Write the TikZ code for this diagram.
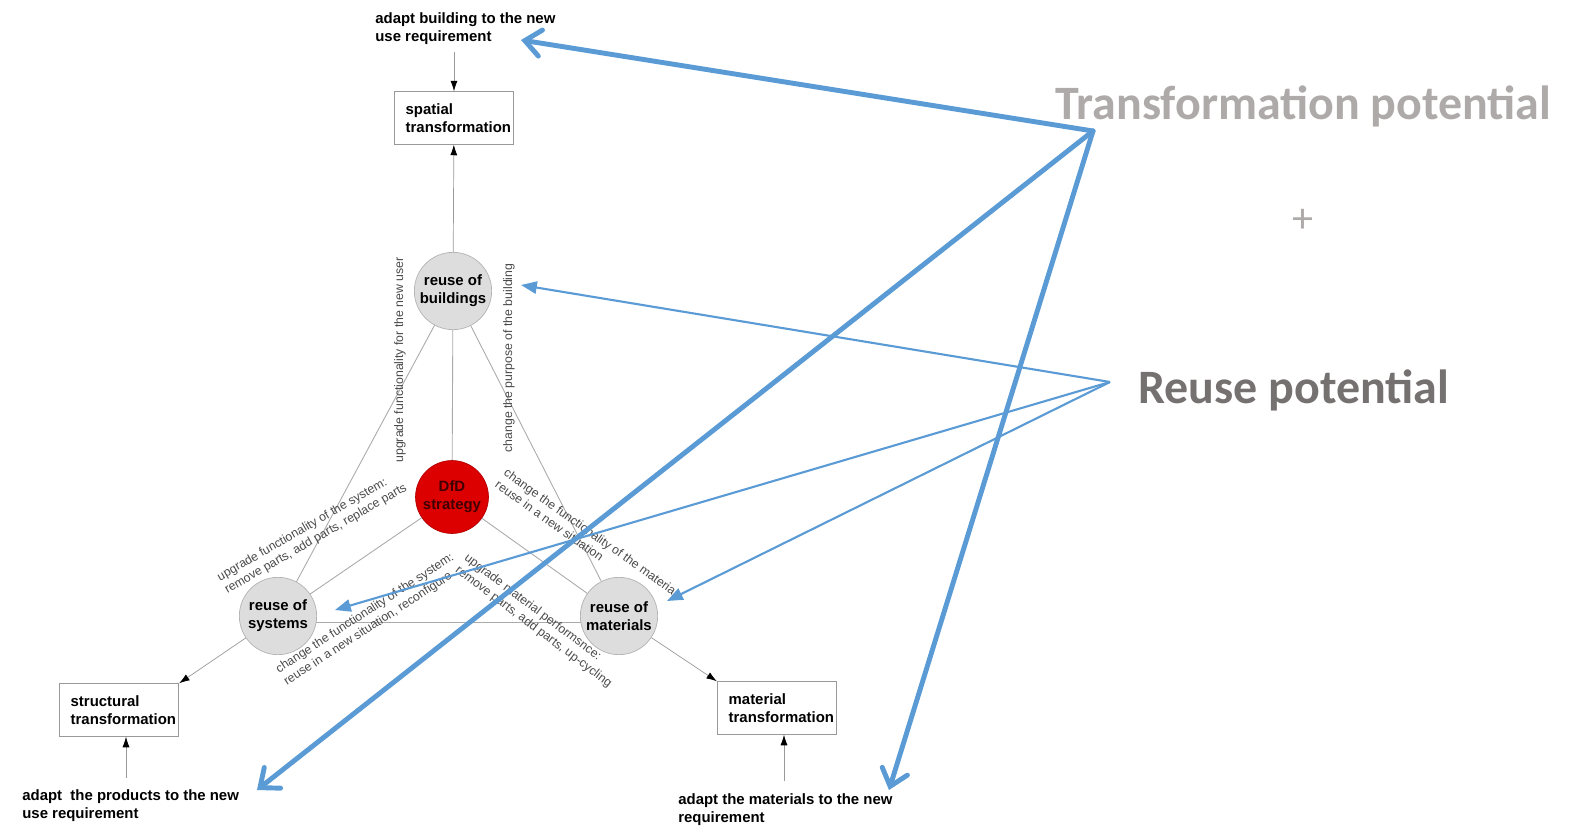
\documentclass[tikz,border=0pt]{standalone}
\usepackage{fontspec}
\setmainfont{Liberation Sans}
\newfontfamily\calfont{Carlito}
\usepackage{tikz}
\usetikzlibrary{arrows.meta}
\definecolor{lnk}{HTML}{AAAAAA}
\definecolor{blu}{HTML}{5B9BD5}
\definecolor{lbl}{HTML}{4A4A4A}
\definecolor{dfdred}{HTML}{DD0000}
\definecolor{tcol}{HTML}{AEAAAA}
\definecolor{rcol}{HTML}{767171}
\tikzset{every node/.append style={font=\fontsize{8.5}{10.2}\selectfont\bfseries},
  reuse/.style={circle, draw=gray!60, fill=gray!27, minimum size=44pt, inner sep=0pt, align=center},
  dfd/.style={fill=dfdred, draw=dfdred!80!black, minimum size=41.5pt, text=red!25!black},
  tbox/.style={draw=gray!80, align=left, text width=55pt, inner xsep=6.5pt, minimum height=30pt},
  req/.style={anchor=north west, align=left, inner sep=0pt},
  note/.style={font=\fontsize{7}{8.4}\selectfont, text=lbl, align=left, inner sep=0pt},
  big/.style={font=\calfont\bfseries\fontsize{27.3}{32}\selectfont, inner sep=0pt, anchor=base west},
  link/.style={draw=lnk, line width=0.5pt},
  arr/.style={draw=gray!80, -{Latex[length=6pt,width=4pt,color=black]}},
  fat/.style={blu, line width=2.8pt, line cap=round, -{Straight Barb[length=9pt,width=15pt,line cap=round]}},
  thin/.style={blu, line width=1.2pt, -{Triangle[length=9pt,width=7pt]}}}

\begin{document}
\begin{tikzpicture}[x=0.02cm, y=-0.02cm]
    \useasboundingbox (0,0) rectangle (1579,828);
    % reuse levels
    \node[reuse] (bldg) at (453,291) {reuse of\\buildings};
    \node[reuse, dfd] (dfd) at (452,497) {DfD\\strategy};
    \node[reuse] (sys) at (278,616) {reuse of\\systems};
    \node[reuse] (mat) at (619,616) {reuse of\\materials};
    \foreach \a/\b in {bldg/dfd, bldg/sys, bldg/mat, dfd/sys, dfd/mat}
        \draw[link] (\a) -- (\b);
    \draw[link] (sys.-10) -- (mat.190);
    % transformations
    \node[tbox] (spat) at (454,118) {spatial\\transformation};
    \node[tbox] (strc) at (119,710) {structural\\transformation};
    \node[tbox] (matr) at (777,708) {material\\transformation};
    \node[req] (topreq) at (375,12) {adapt building to the new\\use requirement};
    \node[req] (blreq) at (22,789) {adapt\ \ the products to the new\\use requirement};
    \node[req] (brreq) at (678,793) {adapt the materials to the new\\requirement};
    \coordinate (sa) at (126,778);
    \coordinate (ma) at (784,781);
    \draw[arr, shorten <=4pt] (topreq.south -| spat.north) -- (spat.north);
    \draw[arr] (bldg) -- (spat);
    \draw[arr] (sys) -- (strc.north east);
    \draw[arr] (mat) -- (matr.north west);
    \draw[arr] (sa) -- (sa |- strc.south);
    \draw[arr] (ma) -- (ma |- matr.south);
    % edge notes
    \node[note, rotate=90] (n1) at (400,360) {upgrade functionality for the new user};
    \node[note, rotate=90] (n2) at (509,358) {change the purpose of the building};
    \node[note, rotate=30, anchor=west] (n3) at (222,585) {upgrade functionality of the system:\\remove parts, add parts, replace parts};
    \node[note, rotate=33, anchor=west] (n4) at (281,677) {change the functionality of the system:\\reuse in a new situation, reconfigure};
    \node[note, rotate=-35.5, anchor=west] (n5) at (501,477) {change the functionality of the materia\\reuse in a new situation};
    \node[note, rotate=-37, anchor=west] (n6) at (461,563) {upgrade material performsnce:\\remove parts, add parts, up-cycling};
    % potentials
    \node[big, text=tcol] (tpot) at (1055,120) {Transformation potential};
    \node[font=\calfont\fontsize{24}{28}\selectfont, text=tcol, inner sep=0pt] (plus) at (1303,221) {+};
    \node[big, text=rcol] (rpot) at (1138,403) {Reuse potential};
    \coordinate (tp) at (1093,131);
    \coordinate (rp) at (1110,382);
    \coordinate (tA) at (521,40);
    \coordinate (tB) at (257,790);
    \coordinate (tC) at (889,790);
    \coordinate (rA) at (521,285);
    \coordinate (rB) at (335,610);
    \coordinate (rC) at (667,601);
    \foreach \c in {tA, tB, tC}
        \draw[fat] (tp) -- (\c);
    \foreach \c in {rA, rB, rC}
        \draw[thin] (rp) -- (\c);
\end{tikzpicture}
\end{document}
